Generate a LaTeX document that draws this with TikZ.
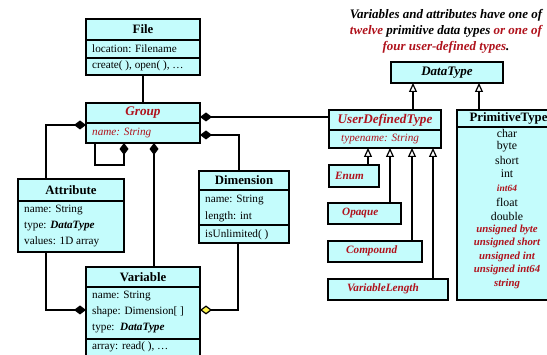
\documentclass[tikz,border=0pt]{standalone}
\usepackage{fontspec}
\setmainfont{Liberation Serif}
\usetikzlibrary{arrows.meta}
\definecolor{boxfill}{HTML}{C4FCFC}
\definecolor{umlred}{HTML}{B0121C}
\tikzset{
  cell/.style={draw=black, fill=boxfill, line width=1.1pt, inner sep=0pt, outer sep=0pt, anchor=north west},
  ttl/.style={font=\fontsize{12.8}{14}\selectfont\bfseries},
  redttl/.style={font=\fontsize{13.2}{14}\selectfont\bfseries\itshape, text=umlred},
  blackttl/.style={font=\fontsize{13}{14}\selectfont\bfseries\itshape},
  txt/.style={font=\fontsize{11.2}{12}\selectfont, anchor=west, inner sep=0pt},
  redit/.style={font=\fontsize{11.2}{12}\selectfont\itshape, text=umlred, anchor=west, inner sep=0pt},
  redsub/.style={font=\fontsize{11.2}{12}\selectfont\bfseries\itshape, text=umlred, anchor=west, inner sep=0pt},
  prim/.style={font=\fontsize{11.8}{12}\selectfont, inner sep=0pt},
  primred/.style={font=\fontsize{10.8}{12}\selectfont\bfseries\itshape, text=umlred, inner sep=0pt},
  conn/.style={line width=1.2pt},
  comp/.style={conn, {Diamond[length=12pt,width=9pt]}-},
  compend/.style={conn, -{Diamond[length=12pt,width=9pt]}},
  aggend/.style={conn, -{Diamond[length=12pt,width=9pt,fill=yellow!70]}},
  inh/.style={conn, -{Triangle[length=9pt,width=8pt,fill=white]}},
}
\begin{document}
\begin{tikzpicture}[x=1pt,y=-1pt]
\useasboundingbox[fill=white] (0,0) rectangle (547,355);

% File
\node[cell, minimum width=114pt, minimum height=21pt, ttl] (fileT) at (86,19) {File};
\node[cell, minimum width=114pt, minimum height=18pt] (fileA) at (86,40) {};
\node[cell, minimum width=114pt, minimum height=17pt] (fileM) at (86,58) {};
\node[txt] (fileA1) at (92,49) {location: Filename};
\node[txt] (fileM1) at (92,66) {create( ), open( ), \dots};

% Group
\node[cell, minimum width=114pt, minimum height=20pt, redttl] (groupT) at (86,103) {Group};
\node[cell, minimum width=114pt, minimum height=20pt] (groupA) at (86,123) {};
\node[redit] (groupA1) at (92,133) {name: String};

% Attribute
\node[cell, minimum width=106pt, minimum height=22pt, ttl] (attT) at (18,179) {Attribute};
\node[cell, minimum width=106pt, minimum height=51pt] (attA) at (18,201) {};
\node[txt] (attA1) at (24,210) {name: String};
\node[txt] (attA2) at (24,226) {type: \textbf{\textit{DataType}}};
\node[txt] (attA3) at (24,242) {values: 1D array};

% Dimension
\node[cell, minimum width=90pt, minimum height=19pt, ttl] (dimT) at (199,171) {Dimension};
\node[cell, minimum width=90pt, minimum height=35pt] (dimA) at (199,190) {};
\node[cell, minimum width=90pt, minimum height=18pt] (dimM) at (199,225) {};
\node[txt] (dimA1) at (205,200) {name: String};
\node[txt] (dimA2) at (205,217) {length: int};
\node[txt] (dimM1) at (205,235) {isUnlimited( )};

% Variable
\node[cell, minimum width=114pt, minimum height=20pt, ttl] (varT) at (86,267) {Variable};
\node[cell, minimum width=114pt, minimum height=52pt] (varA) at (86,287) {};
\node[cell, minimum width=114pt, minimum height=22pt] (varM) at (86,339) {};
\node[txt] (varA1) at (92,296) {name: String};
\node[txt] (varA2) at (92,312) {shape: Dimension[ ]};
\node[txt] (varA3) at (92,328) {type:\enspace\textbf{\textit{DataType}}};
\node[txt] (varM1) at (92,347) {array: read( ), \dots};

% Caption
\node[font=\fontsize{13}{16}\selectfont\bfseries\itshape, align=center, inner sep=0pt] (cap) at (446,31)
  {Variables and attributes have one of\\
   \textcolor{umlred}{twelve} primitive data types \textcolor{umlred}{or one of}\\
   \textcolor{umlred}{four user-defined types}.};

% DataType
\node[cell, minimum width=112pt, minimum height=21pt, blackttl] (dt) at (391,62) {DataType};

% UserDefinedType
\node[cell, minimum width=112pt, minimum height=20pt, redttl] (udtT) at (329,110) {UserDefinedType};
\node[cell, minimum width=112pt, minimum height=18pt] (udtA) at (329,130) {};
\node[redit] (udtA1) at (341,139) {typename: String};

% PrimitiveType
\node[cell, minimum width=103pt, minimum height=17pt, ttl] (primT) at (457,110) {PrimitiveType};
\node[cell, minimum width=103pt, minimum height=173pt] (primA) at (457,127) {};
\node[prim] (p1) at (507,133) {char};
\node[prim] (p2) at (507,147) {byte};
\node[prim] (p3) at (507,160) {short};
\node[prim] (p4) at (507,174) {int};
\node[primred, font=\fontsize{9.5}{12}\selectfont\bfseries\itshape] (p5) at (507,188) {int64};
\node[prim] (p6) at (507,202) {float};
\node[prim] (p7) at (507,216) {double};
\node[primred] (p8) at (507,230) {unsigned byte};
\node[primred] (p9) at (507,243) {unsigned short};
\node[primred] (p10) at (507,257) {unsigned int};
\node[primred] (p11) at (507,270) {unsigned int64};
\node[primred] (p12) at (507,284) {string};

% User-defined subtypes
\node[cell, minimum width=50pt, minimum height=22pt] (enum) at (329,165) {};
\node[redsub] (enumL) at (335,176) {Enum};
\node[cell, minimum width=73pt, minimum height=21pt] (opq) at (328,203) {};
\node[redsub] (opqL) at (342,213) {Opaque};
\node[cell, minimum width=94pt, minimum height=21pt] (cmp) at (328,241) {};
\node[redsub] (cmpL) at (346,251) {Compound};
\node[cell, minimum width=120pt, minimum height=21pt] (vl) at (328,279) {};
\node[redsub] (vlL) at (347,289) {VariableLength};

% Connectors
\draw[conn] (fileM.south) -- (groupT.north);
\draw[comp] ([yshift=-4pt]groupT.east) coordinate (g1) -- (g1 -| udtT.west);
\draw[comp] ([yshift=-2pt]groupA.east) -| ([xshift=-5pt]dimT.north);
\draw[comp] ([yshift=-2pt]groupA.north west) -| ([xshift=-25pt]attT.north);
\draw[comp] ([xshift=-19pt]groupA.south) -- ++(0,22) -| ([xshift=-48pt]groupA.south);
\draw[comp] ([xshift=11pt]groupA.south) -- ([xshift=11pt]varT.north);
\draw[compend] ([xshift=-25pt]attA.south) |- ([yshift=3pt]varA.west);
\draw[aggend] ([xshift=-6pt]dimM.south) |- ([yshift=3pt]varA.east);

\draw[inh] ([xshift=28pt]udtT.north) coordinate (u1) -- (u1 |- dt.south);
\draw[inh] ([xshift=-29.5pt]primT.north) coordinate (u2) -- (u2 |- dt.south);
\draw[inh] ([xshift=14pt]enum.north) coordinate (s1) -- (s1 |- udtA.south);
\draw[inh] ([xshift=25.5pt]opq.north) coordinate (s2) -- (s2 |- udtA.south);
\draw[inh] ([xshift=37pt]cmp.north) coordinate (s3) -- (s3 |- udtA.south);
\draw[inh] ([xshift=45pt]vl.north) coordinate (s4) -- (s4 |- udtA.south);
\end{tikzpicture}
\end{document}
